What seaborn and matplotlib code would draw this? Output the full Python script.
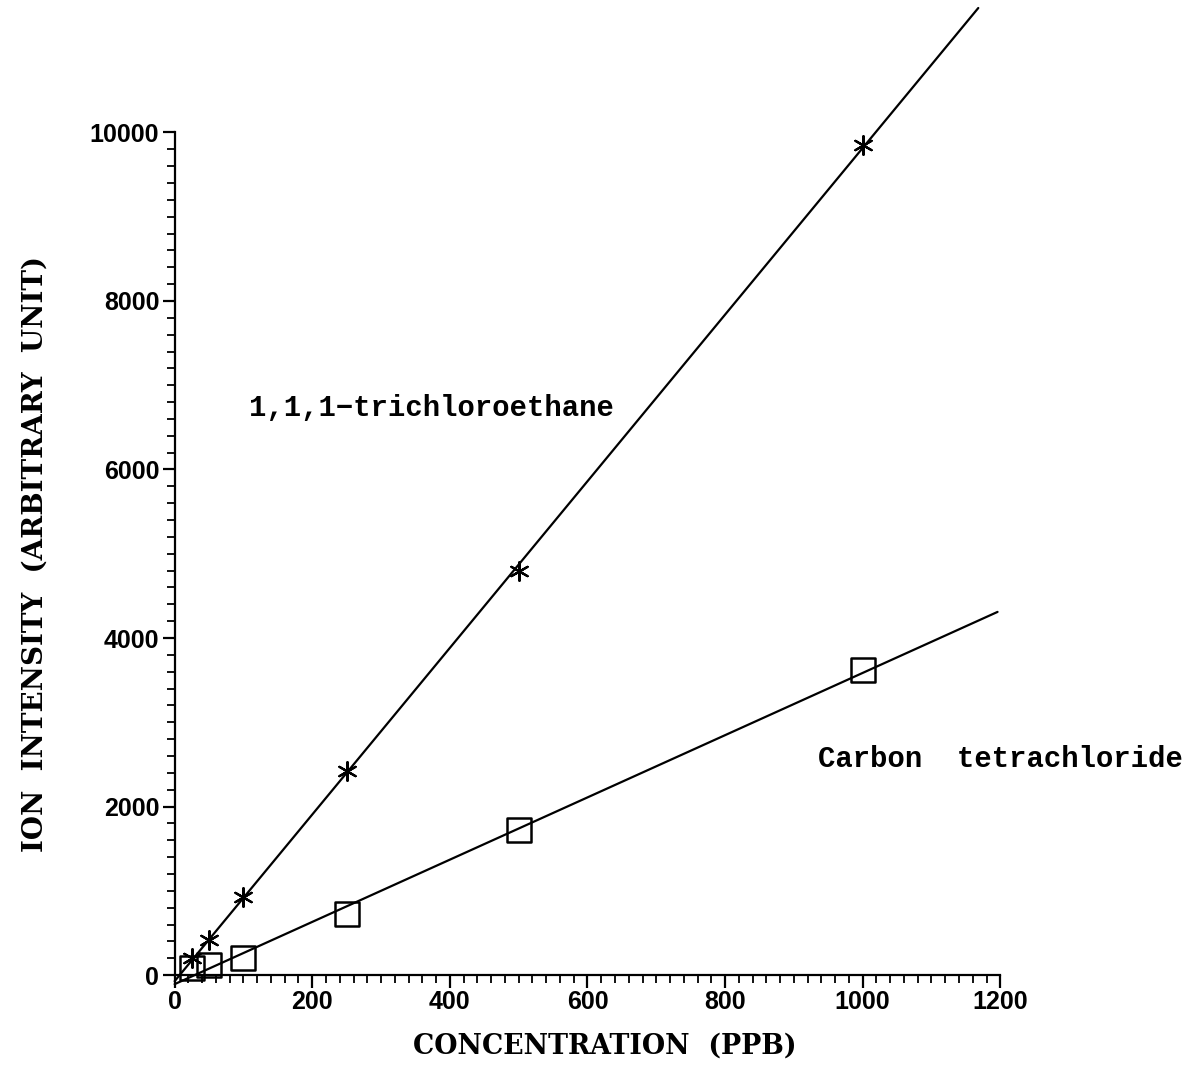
import numpy as np
import pandas as pd
import matplotlib
matplotlib.use("Agg")
import matplotlib.pyplot as plt
import seaborn as sns
from matplotlib.ticker import MultipleLocator

# Calibration data: ion intensity vs concentration
conc = [25, 50, 100, 250, 500, 1000]
trichloroethane = [200, 415, 925, 2420, 4790, 9850]
carbon_tet = [80, 120, 200, 724, 1720, 3620]

x_ticks = [0, 200, 400, 600, 800, 1000, 1200]
y_ticks = [0, 2000, 4000, 6000, 8000, 10000]

sns.set_theme(style="ticks")
plt.rcParams["font.family"] = ["DejaVu Sans"]

fig = plt.figure(figsize=(11.88, 10.68), dpi=100)
ax = fig.add_axes([0.147, 0.087, 0.695, 0.789])

df_t = pd.DataFrame({"conc": conc, "val": trichloroethane})
df_c = pd.DataFrame({"conc": conc, "val": carbon_tet})

# least-squares calibration lines
pt = np.polyfit(conc, trichloroethane, 1)
pc = np.polyfit(conc, carbon_tet, 1)
xt = np.array([0, 1168])
xc = np.array([0, 1196])
ax.plot(xt, np.polyval(pt, xt), color="black", lw=1.6, clip_on=False, zorder=2)
ax.plot(xc, np.polyval(pc, xc), color="black", lw=1.6, clip_on=False, zorder=2)

sns.scatterplot(data=df_t, x="conc", y="val", ax=ax, marker=(6, 2, 0), s=180,
                color="black", linewidth=1.6, edgecolor="black", zorder=3, clip_on=False)
sns.scatterplot(data=df_c, x="conc", y="val", ax=ax, marker="s", s=300,
                facecolor="none", edgecolor="black", linewidth=1.8, zorder=3, clip_on=False)

ax.set_xlim(0, 1200)
ax.set_ylim(0, 10000)
ax.set_xticks(x_ticks)
ax.set_yticks(y_ticks)
ax.xaxis.set_minor_locator(MultipleLocator(20))
ax.yaxis.set_minor_locator(MultipleLocator(200))
ax.tick_params(axis="both", which="major", length=9, width=1.6, direction="out",
               labelsize=18, pad=2, colors="black")
ax.tick_params(axis="both", which="minor", length=6, width=1.3, direction="out",
               colors="black")
for lab in ax.get_xticklabels() + ax.get_yticklabels():
    lab.set_fontweight("bold")
    lab.set_family("Liberation Sans")

sns.despine(ax=ax)
for s in ["left", "bottom"]:
    ax.spines[s].set_linewidth(1.6)
    ax.spines[s].set_color("black")

ax.set_xlabel("CONCENTRATION  (PPB)", fontsize=19.3, fontweight="bold",
              family="DejaVu Serif", color="black")
ax.xaxis.set_label_coords(0.521, -0.068)
ax.set_ylabel("ION  INTENSITY  (ARBITRARY  UNIT)", fontsize=20, fontweight="bold",
              family="DejaVu Serif", labelpad=30, color="black")

ax.text(108, 6730, "1,1,1\u2212trichloroethane", fontsize=20.8, fontweight="bold",
        family="Liberation Mono", va="center", ha="left", color="black")
ax.text(935, 2570, "Carbon  tetrachloride", fontsize=20.8, fontweight="bold",
        family="Liberation Mono", va="center", ha="left", clip_on=False, color="black")

fig.savefig("out.png", dpi=100, facecolor="white")
